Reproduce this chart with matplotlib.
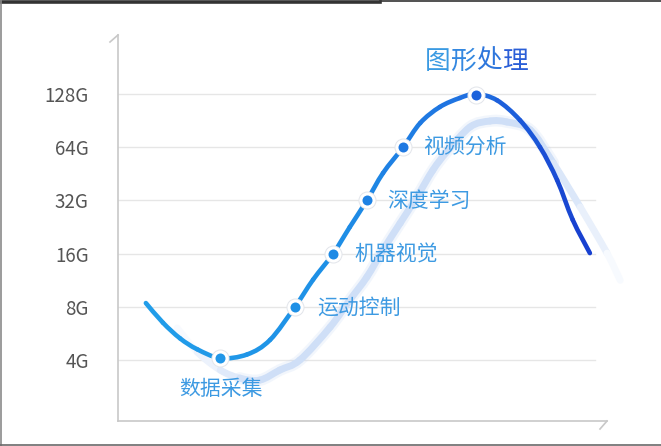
import numpy as np
import matplotlib
matplotlib.use("Agg")
import matplotlib.pyplot as plt
from matplotlib.colors import LinearSegmentedColormap, to_rgb, to_rgba
from matplotlib.lines import Line2D
from matplotlib.path import Path
from matplotlib.patches import PathPatch

plt.rcParams['font.family'] = ['Noto Sans CJK SC', 'DejaVu Sans']

# stages on the curve (memory need, G)
stages = ["数据采集", "运动控制", "机器视觉", "深度学习", "视频分析", "图形处理"]
stage_x = [20.9, 36.2, 44.0, 50.9, 58.3, 73.2]
stage_g = [4.1, 8, 16, 32, 64, 127]

# main curve
curve_x = [5.7, 9.2, 12.7, 16.2, 20.9, 26.4, 31.1, 36.2, 39.9, 44.0, 47.4, 50.9,
           54.2, 58.3, 61.8, 65.8, 69.9, 73.2, 77.5, 82.2, 86.3, 89.8, 93.0, 96.5]
curve_g = [8.4, 6.5, 5.3, 4.6, 4.1, 4.3, 5.2, 8.0, 11.4, 16, 22.6, 32,
           45.7, 64, 87.7, 108, 121.5, 128, 118, 91, 64, 41.7, 24.8, 16.1]

# pale shadow curve
shadow_x = [12.1, 16.2, 20.9, 24.9, 29.0, 33.1, 37.2, 43.4, 47.4, 50.9, 54.2, 57.7,
            61.1, 64.4, 67.3, 72.0, 76.1, 79.5, 84.3, 89.0, 94.5, 100.0, 102.7]
shadow_g = [6.07, 4.44, 3.51, 3.16, 3.08, 3.51, 4.0, 6.15, 8.74, 11.8, 16.8, 23.8,
            33.4, 47.5, 60.5, 83.3, 90, 88.9, 80.1, 52.1, 29.4, 16.1, 11.3]

yticks = [4, 8, 16, 32, 64, 128]
ytick_labels = ["4G", "8G", "16G", "32G", "64G", "128G"]

# label offsets in pixels from each point
label_offsets = [(1, -31, "center"), (22, -1, "left"), (21, -1, "left"),
                 (20, -1, "left"), (20, 0, "left"), (0, 33, "center")]
title_colors = ["#3a9ae2", "#3488e0", "#2e76dc", "#2a5ed7"]


def bezier_pieces(xs, gs):
    """control points of smooth pieces through the points (catmull-rom in log2 space)."""
    p = np.column_stack([np.array(xs, float), np.log2(np.array(gs, float))])
    n = len(p)
    out = []
    for i in range(n - 1):
        p0 = p[max(i - 1, 0)]
        p1 = p[i]
        p2 = p[i + 1]
        p3 = p[min(i + 2, n - 1)]
        c1 = p1 + (p2 - p0) / 6
        c2 = p2 - (p3 - p1) / 6
        verts = np.array([p1, c1, c2, p2])
        verts[:, 1] = 2 ** verts[:, 1]
        out.append(verts)
    return out


def piece_path(verts):
    return Path(verts, [Path.MOVETO, Path.CURVE4, Path.CURVE4, Path.CURVE4])


def whole_path(pieces):
    verts = [pieces[0][0]]
    codes = [Path.MOVETO]
    for v in pieces:
        verts.extend(v[1:])
        codes.extend([Path.CURVE4] * 3)
    return Path(np.array(verts), codes)


def main():
    fig = plt.figure(figsize=(6.61, 4.46), dpi=100)
    ax = fig.add_axes([118 / 661, 25 / 446, 489 / 661, 386 / 446])

    ax.set_yscale("log", base=2)
    ax.set_xlim(0, 100)
    ax.set_ylim(1.807, 276)

    for v in yticks:
        ax.axhline(v, xmin=0, xmax=0.975, color="#e6e6e6", lw=1.0, zorder=0)

    ax.set_yticks(yticks)
    ax.set_yticklabels(ytick_labels)
    ax.minorticks_off()
    ax.set_xticks([])
    ax.tick_params(axis="y", length=0, pad=21, labelsize=13.5, labelcolor="#555555")

    for s in ["top", "right"]:
        ax.spines[s].set_visible(False)
    for s in ["left", "bottom"]:
        ax.spines[s].set_color("#c8c8c8")
        ax.spines[s].set_linewidth(1.2)
    # small hooks at axis ends
    ax.plot([0, -8 / 489], [1, 1 - 7 / 386], color="#c8c8c8", lw=1.2,
            transform=ax.transAxes, clip_on=False)
    ax.plot([1, 1 - 7 / 489], [0, -8 / 386], color="#c8c8c8", lw=1.2,
            transform=ax.transAxes, clip_on=False)

    # shadow: soft halo + pale body that fades into white at both ends
    pieces = bezier_pieces(shadow_x, shadow_g)
    ax.add_patch(PathPatch(whole_path(pieces[3:-3]), fill=False,
                           edgecolor=to_rgba("#c4d8f5", 0.22), lw=8.5, capstyle="round",
                           zorder=1, clip_on=False))
    base = np.array(to_rgb("#cfdff7"))
    white = np.ones(3)
    n = len(pieces)
    for i, v in enumerate(pieces):
        a = min(1.0, (i + 0.6) / 4, (n - i - 0.4) / 3.5)
        col = white + (base - white) * a
        ax.add_patch(PathPatch(piece_path(v), fill=False, edgecolor=col, lw=5,
                               capstyle="round", joinstyle="round",
                               zorder=1.5, clip_on=False))

    # main gradient curve
    cmap = LinearSegmentedColormap.from_list(
        "blues", [(0.0, "#22a0ea"), (0.45, "#1e8fe6"), (0.73, "#1f6ee0"), (1.0, "#1636cc")])
    for i, v in enumerate(bezier_pieces(curve_x, curve_g)):
        mid = (curve_x[i] + curve_x[i + 1]) / 2 / 100
        ax.add_patch(PathPatch(piece_path(v), fill=False, edgecolor=cmap(mid), lw=3.3,
                               capstyle="round", joinstyle="round", zorder=2))

    # points
    for x, g in zip(stage_x, stage_g):
        ax.plot(x, g, "o", ms=13, color="#e3e6eb", mew=0, zorder=3)
        ax.plot(x, g, "o", ms=11.5, color="white", mew=0, zorder=4)
        ax.plot(x, g, "o", ms=7.2, color=cmap(x / 100 + 0.05), mew=0, zorder=5)

    for i, (name, x, g) in enumerate(zip(stages, stage_x, stage_g)):
        dx, dy, ha = label_offsets[i]
        if i == len(stages) - 1:
            # title-like label, one colour per character
            for k, ch in enumerate(name):
                ax.annotate(ch, (x, g), xytext=(dx + (k - 1.5) * 25.8, dy),
                            textcoords="offset pixels", ha="center", va="center",
                            fontsize=18.5, color=title_colors[k], zorder=6)
        else:
            ax.annotate(name, (x, g), xytext=(dx, dy), textcoords="offset pixels",
                        ha=ha, va="center", fontsize=15, color="#3d9ae2", zorder=6)

    # screenshot frame
    fig.add_artist(Line2D([0, 380 / 661], [1 - 1.5 / 446, 1 - 1.5 / 446], color="#333333", lw=2.6))
    fig.add_artist(Line2D([380 / 661, 1], [1 - 1 / 446, 1 - 1 / 446], color="#333333", lw=1.2))
    fig.add_artist(Line2D([1 / 661, 1 / 661], [0, 1], color="#8a8a8a", lw=1.2))
    fig.add_artist(Line2D([0, 1], [1.5 / 446, 1.5 / 446], color="#6a6a6a", lw=1.2))

    fig.savefig("out.png", dpi=100)


if __name__ == "__main__":
    main()
